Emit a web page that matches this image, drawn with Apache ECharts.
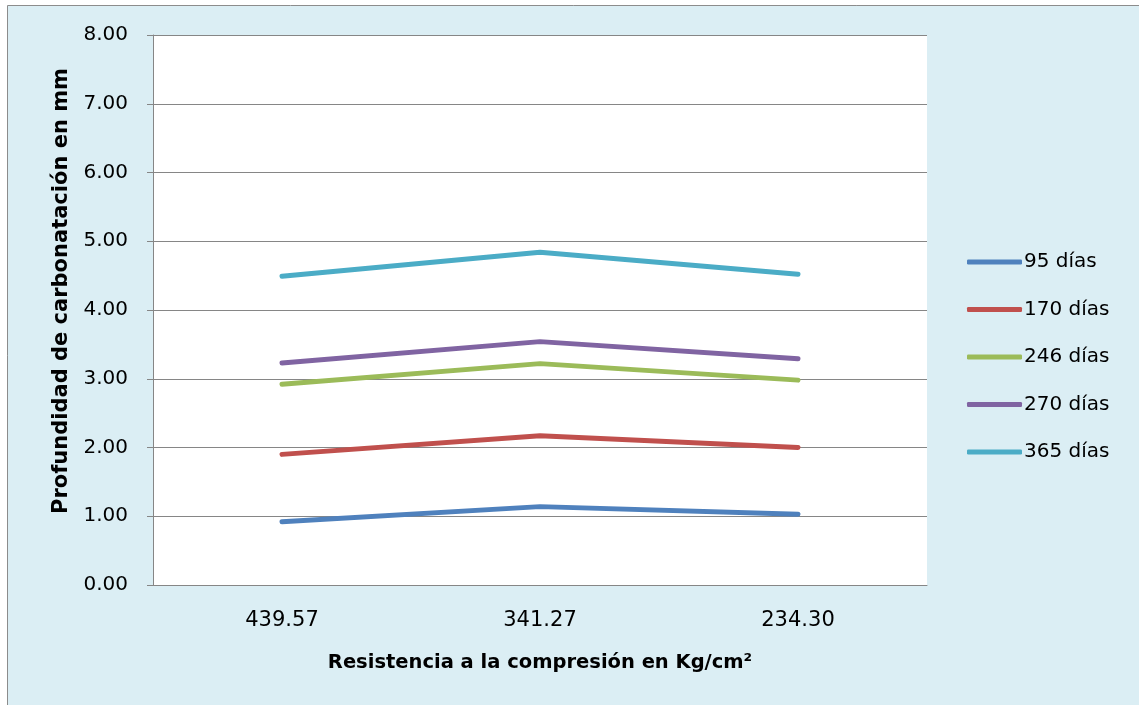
<!DOCTYPE html>
<html><head><meta charset="utf-8">
<script src="https://cdn.jsdelivr.net/npm/echarts@6/dist/echarts.min.js"></script>
<style>html,body{margin:0;padding:0;background:#fff}#c{width:1139px;height:705px}</style>
</head><body><div id="c"></div>
<script>
const categories = ['439.57', '341.27', '234.30'];
const seriesNames = ['95 días', '170 días', '246 días', '270 días', '365 días'];
const d95 = [0.92, 1.14, 1.03];
const d170 = [1.90, 2.17, 2.00];
const d246 = [2.92, 3.22, 2.98];
const d270 = [3.23, 3.54, 3.29];
const d365 = [4.49, 4.84, 4.52];
const colors = ['#4F81BD', '#C0504D', '#9BBB59', '#8064A2', '#4BACC6'];
const FONT = 'DejaVu Sans';

const chart = echarts.init(document.getElementById('c'));
const allData = [d95, d170, d246, d270, d365];
chart.setOption({
  animation: false,
  color: colors,
  graphic: [{
    type: 'rect', z: -10, silent: true,
    shape: { x: 7.5, y: 5.5, width: 1160, height: 720 },
    style: { fill: '#DBEEF4', stroke: '#8C8C8C', lineWidth: 1 }
  }],
  grid: { left: 153, top: 35, width: 774, height: 550, show: true, backgroundColor: '#FFFFFF', borderWidth: 0 },
  legend: {
    orient: 'vertical', left: 967, top: 252, padding: 0,
    itemWidth: 55, itemHeight: 5, itemGap: 27.5, icon: 'roundRect',
    textStyle: { fontFamily: FONT, fontSize: 20, color: '#000', lineHeight: 20, padding: [0, 0, 0, -3] },
    data: seriesNames
  },
  xAxis: {
    type: 'category', data: categories, boundaryGap: true,
    name: 'Resistencia a la compresión en Kg/cm²', nameLocation: 'middle', nameGap: 68,
    nameTextStyle: { fontFamily: FONT, fontSize: 19.5, fontWeight: 'bold', color: '#000' },
    axisLine: { lineStyle: { color: '#868686', width: 1 } },
    axisTick: { show: false },
    axisLabel: { fontFamily: FONT, fontSize: 21, color: '#000', margin: 25 }
  },
  yAxis: {
    type: 'value', min: 0, max: 8, interval: 1,
    name: 'Profundidad de carbonatación en mm', nameLocation: 'middle', nameGap: 81, nameRotate: 90,
    nameTextStyle: { fontFamily: FONT, fontSize: 21, fontWeight: 'bold', color: '#000', padding: [0, 0, 0, 38] },
    axisLine: { show: true, lineStyle: { color: '#868686', width: 1 } },
    axisTick: { show: true, length: 6, lineStyle: { color: '#868686' } },
    splitLine: { lineStyle: { color: '#868686', width: 1 } },
    axisLabel: { fontFamily: FONT, fontSize: 20, color: '#000', margin: 25, formatter: v => v.toFixed(2) }
  },
  series: seriesNames.map((n, i) => ({
    name: n, type: 'line', data: allData[i], showSymbol: false, symbol: 'none',
    lineStyle: { width: 5, color: colors[i], cap: 'round', join: 'round' },
    itemStyle: { color: colors[i] }
  }))
});
</script></body></html>
